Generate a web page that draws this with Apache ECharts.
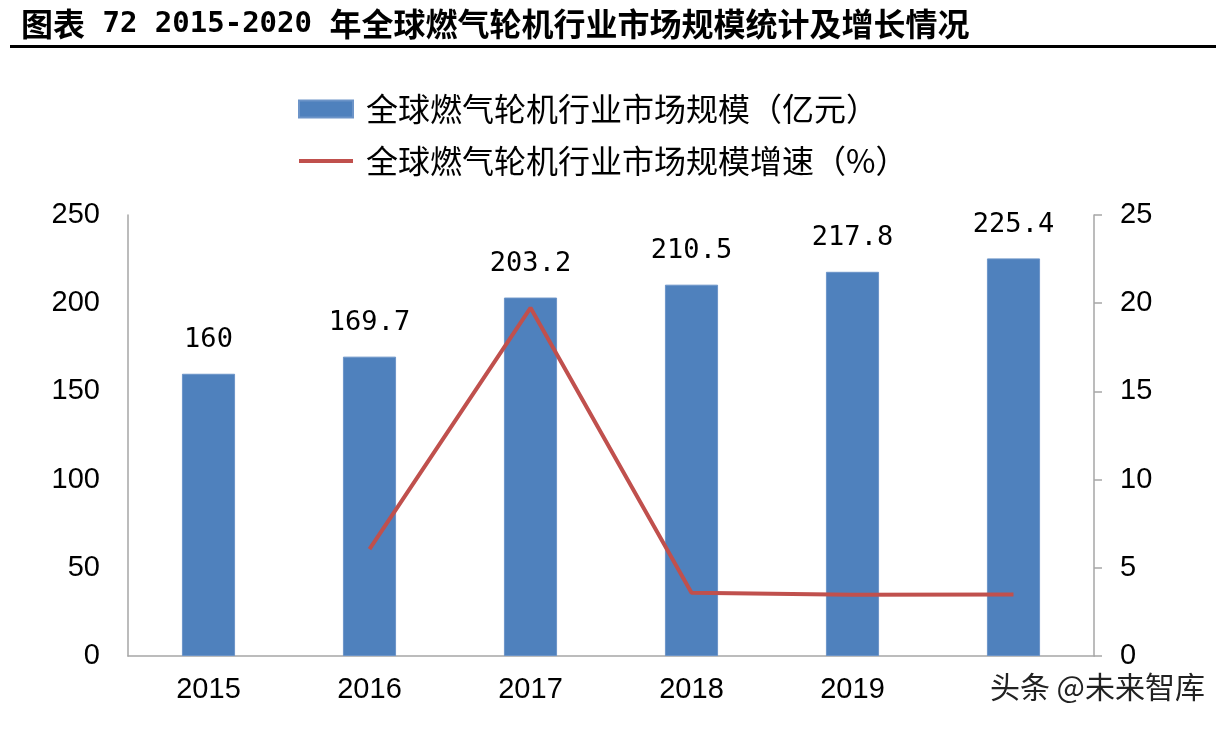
<!DOCTYPE html>
<html><head><meta charset="utf-8">
<script src="https://cdn.jsdelivr.net/npm/echarts@6/dist/echarts.min.js"></script>
<style>html,body{margin:0;padding:0;background:#fff;}#c{width:1229px;height:731px;}</style>
</head><body><div id="c"></div>
<script>
const categories = ['2015','2016','2017','2018','2019','2020'];
const marketSize = [160, 169.7, 203.2, 210.5, 217.8, 225.4];
const growthRate = [null, 6.06, 19.74, 3.59, 3.47, 3.49];
const barLabels = ['160','169.7','203.2','210.5','217.8','225.4'];
const seriesNames = ['全球燃气轮机行业市场规模（亿元）','全球燃气轮机行业市场规模增速（%）'];
const titleText = '图表 72 2015-2020 年全球燃气轮机行业市场规模统计及增长情况';
const watermark = '头条 @未来智库';

// split title into CJK / ASCII runs for rich styling
const titleRich = titleText.match(/[\u0000-\u007f]+|[^\u0000-\u007f]+/g)
  .map(s => /^[\u0000-\u007f]+$/.test(s) ? '{a|' + s + '}' : '{c|' + s + '}').join('');

const chart = echarts.init(document.getElementById('c'));
const axisColor = '#A6A6A6';
const numFont = '"Liberation Sans", Arial, sans-serif';
const cjkFont = '"Noto Sans CJK SC", sans-serif';
const monoFont = '"DejaVu Sans Mono", monospace';
chart.setOption({
  animation: false,
  backgroundColor: '#fff',
  title: {
    text: titleRich, left: 16, top: 3,
    textStyle: {
      rich: {
        c: {fontFamily: cjkFont, fontWeight: 'bold', fontSize: 32, color: '#000'},
        a: {fontFamily: monoFont, fontWeight: 'bold', fontSize: 29, color: '#000'}
      }
    }
  },
  graphic: [
    {type: 'rect', shape: {x: 10, y: 45, width: 1206, height: 3}, style: {fill: '#000'}},
    {type: 'text', right: 20, top: 670, z: 100,
     style: {text: watermark, fontFamily: cjkFont, fontSize: 30, fill: '#222',
             stroke: '#fff', lineWidth: 2, backgroundColor: '#fff', padding: [2, 4, 2, 30]}}
  ],
  legend: {
    orient: 'vertical', left: 293, top: 88, itemGap: 20,
    itemWidth: 54, itemHeight: 17,
    textStyle: {fontFamily: cjkFont, fontSize: 32, color: '#000', padding: [0, 0, 0, 8]},
    data: [
      {name: seriesNames[0], icon: 'rect'},
      {name: seriesNames[1], icon: 'path://M0,0 L54,0 L54,4 L0,4 Z'}
    ]
  },
  grid: {left: 128, right: 135, top: 215, bottom: 75},
  xAxis: {
    type: 'category', data: categories,
    axisLine: {lineStyle: {color: axisColor, width: 1.5}},
    axisTick: {show: false},
    axisLabel: {fontFamily: numFont, fontSize: 29, color: '#000', margin: 19}
  },
  yAxis: [
    {type: 'value', min: 0, max: 250, interval: 50,
     axisLine: {show: true, lineStyle: {color: axisColor, width: 1.5}},
     axisTick: {show: false}, splitLine: {show: false},
     axisLabel: {fontFamily: numFont, fontSize: 29, color: '#000', margin: 28}},
    {type: 'value', min: 0, max: 25, interval: 5, position: 'right',
     axisLine: {show: true, lineStyle: {color: axisColor, width: 1.5}},
     axisTick: {show: true, length: 8, lineStyle: {color: axisColor, width: 1.5}},
     splitLine: {show: false},
     axisLabel: {fontFamily: numFont, fontSize: 29, color: '#000', margin: 26}}
  ],
  series: [
    {name: seriesNames[0], type: 'bar', data: marketSize, barWidth: '33%',
     itemStyle: {color: '#4F81BD', borderColor: '#6C94C8', borderWidth: 1},
     label: {show: true, position: 'top', distance: 20,
             fontFamily: monoFont, fontSize: 27, color: '#000',
             formatter: p => barLabels[p.dataIndex]}},
    {name: seriesNames[1], type: 'line', yAxisIndex: 1, data: growthRate,
     symbol: 'none', lineStyle: {color: '#C0504D', width: 4},
     itemStyle: {color: '#C0504D'}}
  ]
});
</script></body></html>
